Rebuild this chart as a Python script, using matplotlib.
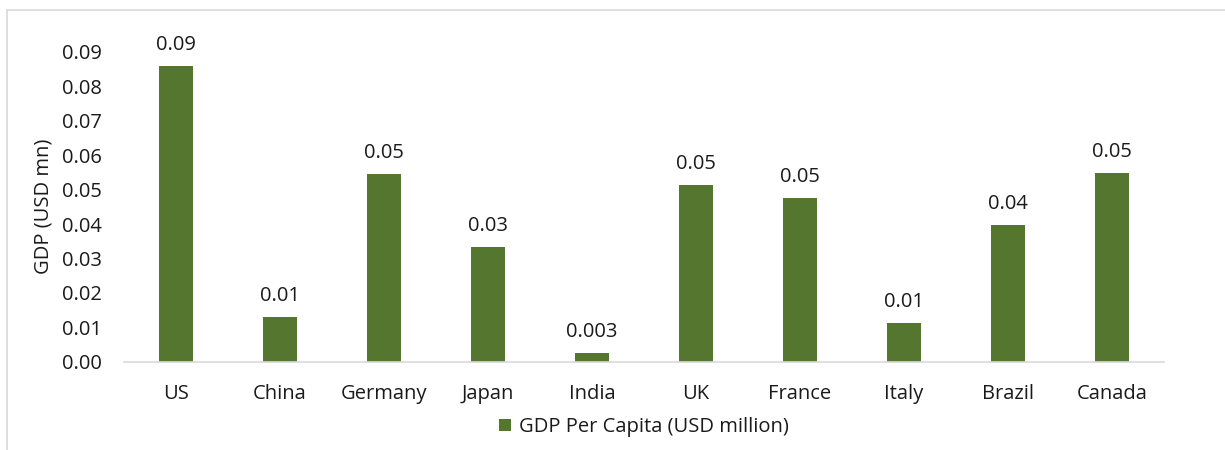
import numpy as np
import matplotlib.pyplot as plt
from matplotlib.patches import Rectangle

plt.rcParams['font.family'] = ['Open Sans', 'DejaVu Sans']

countries = ['US', 'China', 'Germany', 'Japan', 'India', 'UK', 'France',
             'Italy', 'Brazil', 'Canada']
gdp_per_capita = [0.0858, 0.0131, 0.0545, 0.0333, 0.0026, 0.0514, 0.0476,
                  0.0112, 0.0397, 0.0547]
yticks = [0.00, 0.01, 0.02, 0.03, 0.04, 0.05, 0.06, 0.07, 0.08, 0.09]

bar_color = '#55762f'
text_color = '#1a1a1a'
fs = 14.5

fig = plt.figure(figsize=(12.25, 4.5), dpi=100)
ax = fig.add_axes([0.1012, 0.196, 0.849, 0.689])

x = np.arange(len(countries))
bars = ax.bar(x, gdp_per_capita, width=0.32, color=bar_color,
              label='GDP Per Capita (USD million)')

# value labels: small values get an extra decimal
for b, v in zip(bars, gdp_per_capita):
    txt = f'{v:.3f}' if v < 0.005 else f'{v:.2f}'
    ax.annotate(txt, (b.get_x() + b.get_width() / 2, v), xytext=(0, 8),
                textcoords='offset points', ha='center', va='bottom',
                fontsize=fs, color=text_color)

ax.set_xlim(-0.5, len(countries) - 0.5)
ax.set_ylim(0, 0.09)
ax.set_xticks(x)
ax.set_xticklabels(countries, fontsize=fs, color=text_color)
ax.set_yticks(yticks)
ax.set_yticklabels([f'{t:.2f}' for t in yticks], fontsize=fs, color=text_color)
ax.tick_params(axis='both', length=0)
ax.tick_params(axis='x', pad=16)
ax.tick_params(axis='y', pad=16)

for side in ['top', 'right', 'left']:
    ax.spines[side].set_visible(False)
ax.spines['bottom'].set_color('#d9d9d9')
ax.spines['bottom'].set_linewidth(1.2)

ax.set_ylabel('GDP (USD mn)', fontsize=fs, color=text_color)
ax.yaxis.set_label_coords(-0.068, 0.5)

leg = ax.legend(loc='upper center', bbox_to_anchor=(0.5, -0.12), frameon=False,
                fontsize=fs, handlelength=0.6, handleheight=0.6,
                handletextpad=0.4, labelcolor=text_color)

# outer chart frame
fig.patches.append(Rectangle((7 / 1225, -0.05), 1.05, 0.05 + 1 - 10 / 450,
                             transform=fig.transFigure, fill=False,
                             edgecolor='#d9d9d9', linewidth=1.2))

fig.savefig('out.png', dpi=100)
